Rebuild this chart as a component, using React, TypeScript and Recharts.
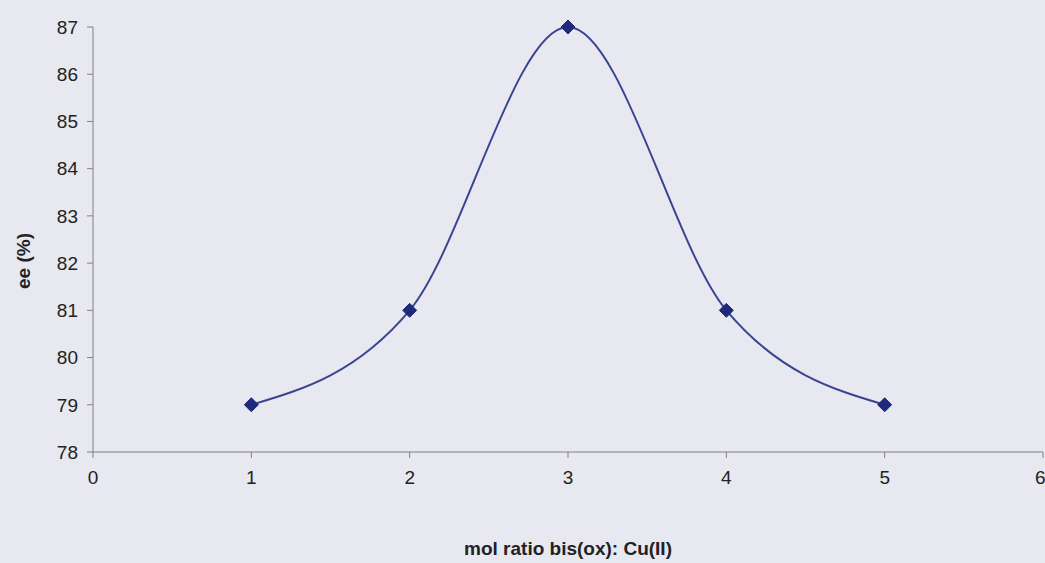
import { LineChart, Line, XAxis, YAxis } from 'recharts';

// mol ratio bis(ox) : Cu(II) vs enantiomeric excess
const ratios = [1, 2, 3, 4, 5];
const eeValues = [79, 81, 87, 81, 79];
const xTicks = [0, 1, 2, 3, 4, 5, 6];
const yTicks = [78, 79, 80, 81, 82, 83, 84, 85, 86, 87];

const data = ratios.map((r, i) => ({ ratio: r, ee: eeValues[i] }));

const Diamond = (props: any) => {
  const { cx, cy } = props;
  if (cx == null || cy == null) return null;
  const s = 7;
  return (
    <path
      d={`M${cx},${cy - s} L${cx + s},${cy} L${cx},${cy + s} L${cx - s},${cy} Z`}
      fill="#1f2a7c"
      stroke="#1f2a7c"
    />
  );
};

const YTitle = () => (
  <text
    x={23}
    y={261}
    transform="rotate(-90 23 261)"
    textAnchor="middle"
    dominantBaseline="central"
    fill="#222"
    fontSize={19}
    fontWeight="bold"
  >
    ee (%)
  </text>
);

const App = () => {
  return (
    <div style={{ width: 1045, height: 563, background: '#e8e8f0', fontFamily: '"Liberation Sans", Arial, sans-serif' }}>
      <style>{'body{margin:0;background:#e8e8f0;}'}</style>
      <LineChart width={1045} height={563} data={data} margin={{ top: 27, right: 2, left: 0, bottom: 0 }}>
        <XAxis
          dataKey="ratio"
          type="number"
          domain={[0, 6]}
          ticks={xTicks}
          stroke="#808080"
          tickSize={6}
          tickMargin={13}
          height={111}
          tick={{ fill: '#222', fontSize: 19 }}
          label={{ value: 'mol ratio bis(ox): Cu(II)', position: 'insideBottom', offset: 8, fill: '#222', fontSize: 19, fontWeight: 'bold' }}
        />
        <YAxis
          type="number"
          domain={[78, 87]}
          ticks={yTicks}
          stroke="#808080"
          tickSize={6}
          tickMargin={9}
          width={93}
          tick={{ fill: '#222', fontSize: 19 }}
          label={<YTitle />}
        />
        <Line
          type="monotone"
          dataKey="ee"
          stroke="#3a4592"
          strokeWidth={2}
          dot={<Diamond />}
          activeDot={false}
          isAnimationActive={false}
        />
      </LineChart>
    </div>
  );
};

export default App;
